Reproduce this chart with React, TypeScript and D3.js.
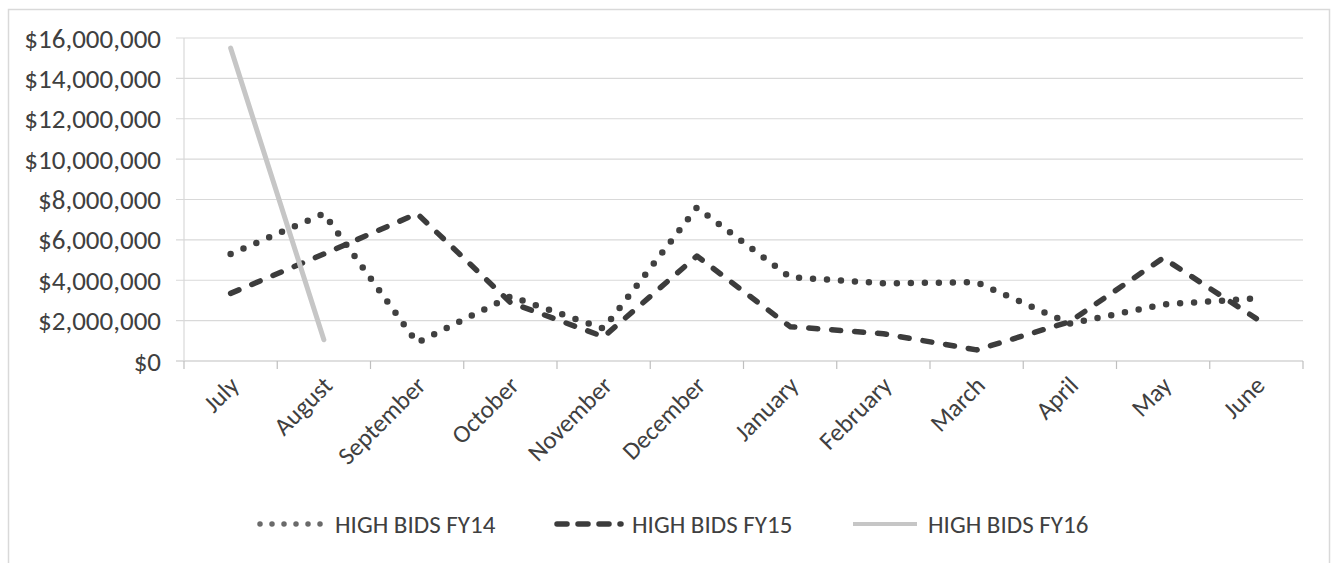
import * as React from "react";
import * as d3 from "d3";

const months = [
	"July",
	"August",
	"September",
	"October",
	"November",
	"December",
	"January",
	"February",
	"March",
	"April",
	"May",
	"June",
];

// values in dollars
const fy14 = [5.3e6, 7.3e6, 0.9e6, 3.2e6, 1.6e6, 7.6e6, 4.15e6, 3.85e6, 3.9e6, 1.85e6, 2.8e6, 3.1e6];
const fy15 = [3.35e6, 5.3e6, 7.3e6, 2.9e6, 1.2e6, 5.2e6, 1.7e6, 1.35e6, 0.55e6, 1.95e6, 5.1e6, 2.1e6];
const fy16 = [15.5e6, 1.05e6];

const yTicks = [0, 2e6, 4e6, 6e6, 8e6, 10e6, 12e6, 14e6, 16e6];

const seriesNames = ["HIGH BIDS FY14", "HIGH BIDS FY15", "HIGH BIDS FY16"];

const textColor = "#404040";
const gridColor = "#d9d9d9";
const font = "Carlito, Calibri, Lato, sans-serif";

const styles = [
	{ stroke: "#404040", width: 6.5, dash: "0 14", cap: "round" },
	{ stroke: "#3c3c3c", width: 5.5, dash: "9 14", cap: "round" },
	{ stroke: "#c6c6c6", width: 5, dash: null, cap: "round" },
];
// legend samples are drawn a bit smaller in the original
const legendStyles = [
	{ stroke: "#6a6a6a", width: 5.5, dash: "0 12", cap: "round" },
	{ stroke: "#3c3c3c", width: 5.5, dash: "10 11", cap: "round" },
	{ stroke: "#c6c6c6", width: 4, dash: null, cap: "butt" },
];

function Series({
	values,
	xScale,
	yScale,
	style,
}: {
	values: number[];
	xScale: d3.ScaleBand<string>;
	yScale: d3.ScaleLinear<number, number>;
	style: (typeof styles)[number];
}) {
	const line = d3
		.line<number>()
		.x((_, i) => xScale(months[i])! + xScale.bandwidth() / 2)
		.y((d) => yScale(d));
	return (
		<path
			d={line(values) || ""}
			fill="none"
			stroke={style.stroke}
			strokeWidth={style.width}
			strokeDasharray={style.dash || undefined}
			strokeLinecap={style.cap as any}
			strokeLinejoin="round"
		/>
	);
}

export default function App() {
	const width = 1332;
	const height = 563;
	const plotLeft = 184;
	const plotRight = 1303;
	const plotTop = 38;
	const plotBottom = 361;

	const xScale = d3
		.scaleBand<string>()
		.domain(months)
		.range([plotLeft, plotRight])
		.padding(0);
	const yScale = d3.scaleLinear([0, 16e6], [plotBottom, plotTop]);
	const fmt = d3.format("$,");

	const boundaries = [...months.map((m) => xScale(m)!), plotRight];

	const legendX = [256, 553, 849];
	const legendY = 524;

	return (
		<svg
			width={width}
			height={height}
			style={{ position: "absolute", left: 0, top: 0, background: "white" }}
			fontFamily={font}
		>
			<rect x={0} y={0} width={width} height={height} fill="white" />
			<rect
				x={8.5}
				y={9.5}
				width={1321}
				height={560}
				fill="none"
				stroke={gridColor}
				strokeWidth={1.5}
			/>
			{/* gridlines + y axis */}
			{yTicks.map((t) => (
				<g key={t}>
					<line
						x1={plotLeft - 8}
						x2={plotRight}
						y1={yScale(t)}
						y2={yScale(t)}
						stroke={t === 0 ? "#bfbfbf" : gridColor}
						strokeWidth={1.2}
					/>
					<text
						x={161}
						y={yScale(t)}
						textAnchor="end"
						dominantBaseline="central"
						fontSize={27}
						fill={textColor}
					>
						{fmt(t)}
					</text>
				</g>
			))}
			<line
				x1={plotLeft}
				x2={plotLeft}
				y1={plotTop}
				y2={plotBottom}
				stroke={gridColor}
				strokeWidth={1.2}
			/>
			{/* x axis ticks */}
			{boundaries.map((b, i) => (
				<line
					key={i}
					x1={b}
					x2={b}
					y1={plotBottom}
					y2={plotBottom + 8}
					stroke="#bfbfbf"
					strokeWidth={1.2}
				/>
			))}
			{months.map((m) => {
				const cx = xScale(m)! + xScale.bandwidth() / 2 + 10;
				const cy = plotBottom + 26;
				return (
					<text
						key={m}
						transform={`translate(${cx},${cy}) rotate(-45)`}
						textAnchor="end"
						fontSize={25}
						fill={textColor}
					>
						{m}
					</text>
				);
			})}
			<Series values={fy14} xScale={xScale} yScale={yScale} style={styles[0]} />
			<Series values={fy15} xScale={xScale} yScale={yScale} style={styles[1]} />
			<Series values={fy16} xScale={xScale} yScale={yScale} style={styles[2]} />
			{/* legend */}
			{seriesNames.map((name, i) => {
				const s = legendStyles[i];
				return (
					<g key={name} transform={`translate(${legendX[i]},${legendY})`}>
						<line
							x1={4}
							x2={68}
							y1={0}
							y2={0}
							stroke={s.stroke}
							strokeWidth={s.width}
							strokeDasharray={s.dash || undefined}
							strokeLinecap={s.cap as any}
						/>
						<text
							x={79}
							y={0}
							dominantBaseline="central"
							fontSize={25}
							fill={textColor}
						>
							{name}
						</text>
					</g>
				);
			})}
		</svg>
	);
}
